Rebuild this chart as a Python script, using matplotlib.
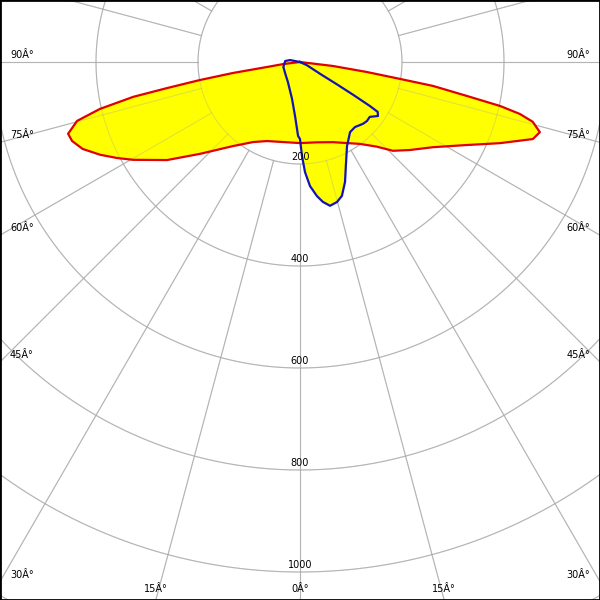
import numpy as np
import matplotlib
matplotlib.use('Agg')
import matplotlib.pyplot as plt

# intensity curves: angle in degrees from nadir (negative = left side), value in cd
red_angles = [-180, -90, -83, -81.4, -80.7, -79.8, -78.9, -78.2, -76.8, -75.2, -72.8,
              -70.9, -68.2, -65.1, -62.3, -59.6, -53.6, -47.4, -38.6, -30.4, -22.7, 0,
              12, 22.4, 36.2, 42.2, 46.3, 51.3, 57.4, 63.6, 67.9, 71.7, 73.7, 75.6,
              76.7, 77.6, 78.5, 79.8, 80.4, 81.5, 83.1, 90, 180]
red_values = [0, 0, 33, 66, 133, 199, 266, 334, 403, 452, 476,
              473, 459, 432, 405, 379, 324, 266, 211, 182, 168, 159,
              161, 170, 199, 224, 252, 276, 310, 366, 423, 481, 490, 471,
              443, 402, 334, 265, 199, 132, 65, 0, 0]

blue_angles = [-180, -101, -94, -73.6, -51, -31, -12.2, -5.3, -1.5, 0, 1.2, 2.6, 4.6,
               7.2, 9.3, 11.8, 14.8, 17.4, 20.6, 23.9, 29.2, 35.5, 40.2, 45.5, 48.6,
               51.8, 55.3, 57.3, 57.8, 58.3, 58.8, 59.5, 65, 90, 180]
blue_values = [0, 20, 29, 34, 37, 46, 74, 106, 145, 151, 184, 216, 244,
               265, 278, 288, 284, 275, 251, 222, 189, 169, 167, 173, 175,
               174, 186, 181, 162, 124, 86, 46, 15, 0, 0]

ring_values = [200, 400, 600, 800, 1000, 1200]
ring_labels = ['200', '400', '600', '800', '1000']
edge_angles = [90, 75, 60, 45, 30, 15, 0]

PX = 0.51          # pixels per cd
CX, CY = 300, 62   # centre of the diagram in pixels
W = H = 600

x0, x1 = -CX / PX, (W - CX) / PX
y0, y1 = -(H - CY) / PX, CY / PX


def to_xy(ang, val):
    a = np.radians(np.asarray(ang, float))
    v = np.asarray(val, float)
    return v * np.sin(a), -v * np.cos(a)


fig = plt.figure(figsize=(6, 6), dpi=100)
ax = fig.add_axes([0, 0, 1, 1])
ax.set_xlim(x0, x1)
ax.set_ylim(y0, y1)
ax.set_aspect('equal')
ax.set_xticks([])
ax.set_yticks([])
for s in ax.spines.values():
    s.set_color('black')
    s.set_linewidth(2)


def draw_grid(**kw):
    t = np.linspace(0, 2 * np.pi, 721)
    for r in ring_values:
        ax.plot(r * np.sin(t), r * np.cos(t), lw=0.8, **kw)
    for a in range(0, 360, 15):
        xs, ys = to_xy([a, a], [200, 1500])
        ax.plot(xs, ys, lw=0.8, **kw)


draw_grid(color='#bdbdbd', zorder=1)

# curves
for ang, val in [(red_angles, red_values), (blue_angles, blue_values)]:
    xs, ys = to_xy(ang, val)
    ax.fill(xs, ys, color='#ffff00', lw=0, zorder=2)
# grid shows faintly through the filled area
draw_grid(color='#a0a0a0', alpha=0.3, zorder=2.5)

rx, ry = to_xy(red_angles, red_values)
ax.plot(rx, ry, color='#e00000', lw=1.6, zorder=3)
bx, by = to_xy(blue_angles, blue_values)
ax.plot(bx, by, color='#1414b4', lw=1.6, zorder=4)

# radius labels
for r, lab in zip(ring_values, ring_labels):
    ax.text(0, -r + 1.5 / PX, lab, ha='center', va='bottom', fontsize=7, zorder=5)

# angle labels where the radial lines leave the picture
for a in edge_angles:
    s, c = np.sin(np.radians(a)), np.cos(np.radians(a))
    t_side = x1 / s if s > 0 else np.inf
    t_bot = -y0 / c if c > 0 else np.inf
    lab = f'{a}Â°'
    if t_side <= t_bot:
        yy = -c * t_side + 7 / PX
        ax.text(x0 + 10 / PX, yy, lab, ha='left', va='center', fontsize=7, zorder=5)
        ax.text(x1 - 10 / PX, yy, lab, ha='right', va='center', fontsize=7, zorder=5)
    else:
        xx = s * t_bot
        yy = y0 + 11 / PX
        ax.text(-xx, yy, lab, ha='center', va='center', fontsize=7, zorder=5)
        if a != 0:
            ax.text(xx, yy, lab, ha='center', va='center', fontsize=7, zorder=5)

fig.savefig('out.png', dpi=100)
